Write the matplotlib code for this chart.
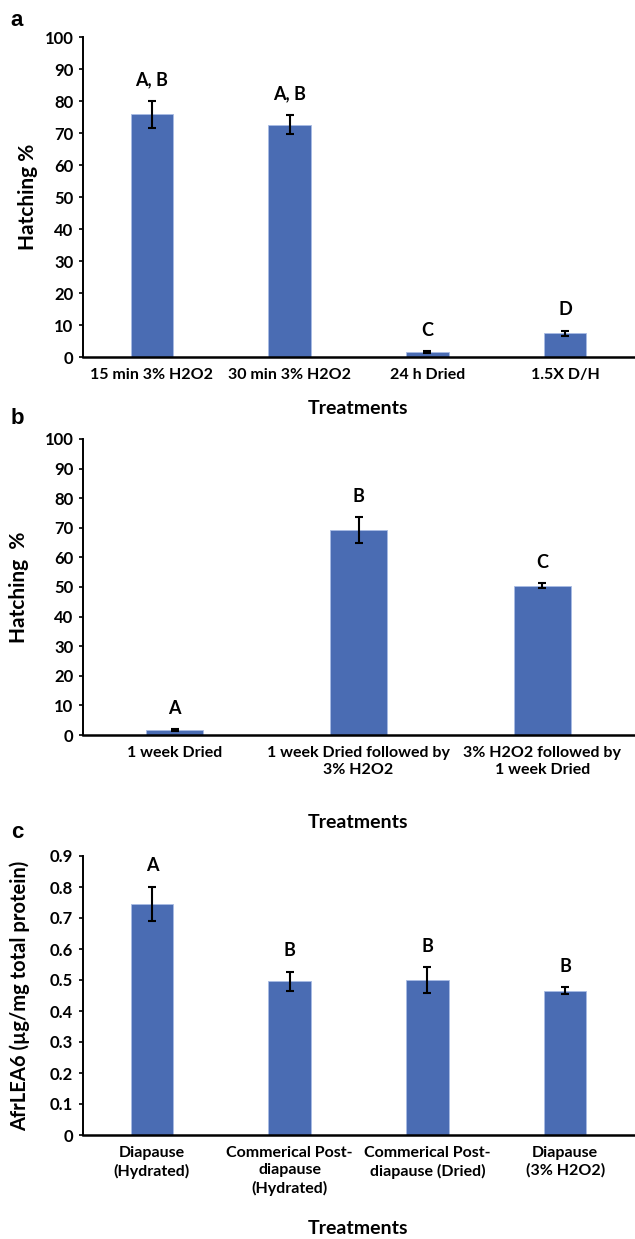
import numpy as np
import matplotlib
matplotlib.use('Agg')
from matplotlib import pyplot as plt
from matplotlib.ticker import FuncFormatter

plt.rcParams['font.family'] = ['Lato', 'DejaVu Sans']
plt.rcParams['font.weight'] = 'bold'

# panel a
cats_a = ['15 min 3% H2O2', '30 min 3% H2O2', '24 h Dried', '1.5X D/H']
vals_a = [75.8, 72.6, 1.5, 7.4]
errs_a = [4.3, 3.0, 0.3, 0.8]
sig_a = ['A, B', 'A, B', 'C', 'D']

# panel b
cats_b = ['1 week Dried', '1 week Dried followed by\n3% H2O2', '3% H2O2 followed by\n1 week Dried']
vals_b = [1.6, 69.2, 50.4]
errs_b = [0.3, 4.4, 0.9]
sig_b = ['A', 'B', 'C']

# panel c
cats_c = ['Diapause\n(Hydrated)', 'Commerical Post-\ndiapause\n(Hydrated)',
          'Commerical Post-\ndiapause (Dried)', 'Diapause\n(3% H2O2)']
vals_c = [0.746, 0.496, 0.499, 0.466]
errs_c = [0.055, 0.031, 0.042, 0.011]
sig_c = ['A', 'B', 'B', 'B']

W, H = 635, 1239
fig = plt.figure(figsize=(W / 100, H / 100), dpi=100)

bar_col = '#4a6cb3'
edge_col = '#a8bce4'


def px_axes(top, bottom, left=83, right=634):
    return fig.add_axes([left / W, 1 - bottom / H, (right - left) / W, (bottom - top) / H])


def panel(ax, cats, vals, errs, sigs, ymax, ystep, ylabel, ylab_size, ylab_x, xlab_dist, fmt=None):
    x = np.arange(len(cats))
    ax.bar(x, vals, width=0.31, color=bar_col, edgecolor=edge_col, linewidth=0.6, zorder=2)
    ax.errorbar(x, vals, yerr=errs, fmt='none', ecolor='black', elinewidth=1.5,
                capsize=3, capthick=1.5, zorder=3)
    for xi, v, e, s in zip(x, vals, errs, sigs):
        ax.annotate(s, (xi, v + e), xytext=(0, 15), textcoords='offset points',
                    ha='center', va='center', fontsize=13, fontweight='bold')
    ax.set_xlim(-0.5, len(cats) - 0.5)
    ax.set_ylim(0, ymax)
    ax.set_yticks(np.round(np.arange(0, ymax + ystep / 2, ystep), 3))
    if fmt is not None:
        ax.yaxis.set_major_formatter(FuncFormatter(fmt))
    ax.set_xticks(x)
    ax.set_xticklabels(cats, fontsize=11.5, fontweight='bold', linespacing=1.3)
    ax.tick_params(axis='x', length=0, pad=8)
    ax.tick_params(axis='y', length=3, width=1.2, pad=4, labelsize=12)
    for lab in ax.get_yticklabels():
        lab.set_fontweight('bold')
    for s in ['top', 'right']:
        ax.spines[s].set_visible(False)
    ax.spines['left'].set_linewidth(1.4)
    ax.spines['bottom'].set_linewidth(1.8)
    ax.set_ylabel(ylabel, fontsize=ylab_size, fontweight='bold')
    ax.yaxis.label.set_va('center')
    w_px = ax.get_position().width * W
    h_px = ax.get_position().height * H
    ax.yaxis.set_label_coords(ylab_x / w_px, 0.5)
    ax.set_xlabel('Treatments', fontsize=14, fontweight='bold')
    ax.xaxis.label.set_va('center')
    ax.xaxis.set_label_coords(0.5, -xlab_dist / h_px)


ax_a = px_axes(37, 357)
panel(ax_a, cats_a, vals_a, errs_a, sig_a, 100, 10, 'Hatching %', 15, -55, 51)

ax_b = px_axes(439, 735)
panel(ax_b, cats_b, vals_b, errs_b, sig_b, 100, 10, 'Hatching  %', 15, -64, 88)

ax_c = px_axes(856, 1135)
panel(ax_c, cats_c, vals_c, errs_c, sig_c, 0.9, 0.1, 'AfrLEA6 (µg/mg total protein)', 14.5, -63, 94,
      fmt=lambda v, p: '0' if v == 0 else '%.1f' % v)

# panel letters
for letter, ypx in [('a', 20), ('b', 419), ('c', 833)]:
    fig.text(17 / W, 1 - ypx / H, letter, fontsize=16, fontweight='bold',
             family=['Liberation Sans', 'DejaVu Sans'], ha='center', va='center')

fig.savefig('out.png', dpi=100)
